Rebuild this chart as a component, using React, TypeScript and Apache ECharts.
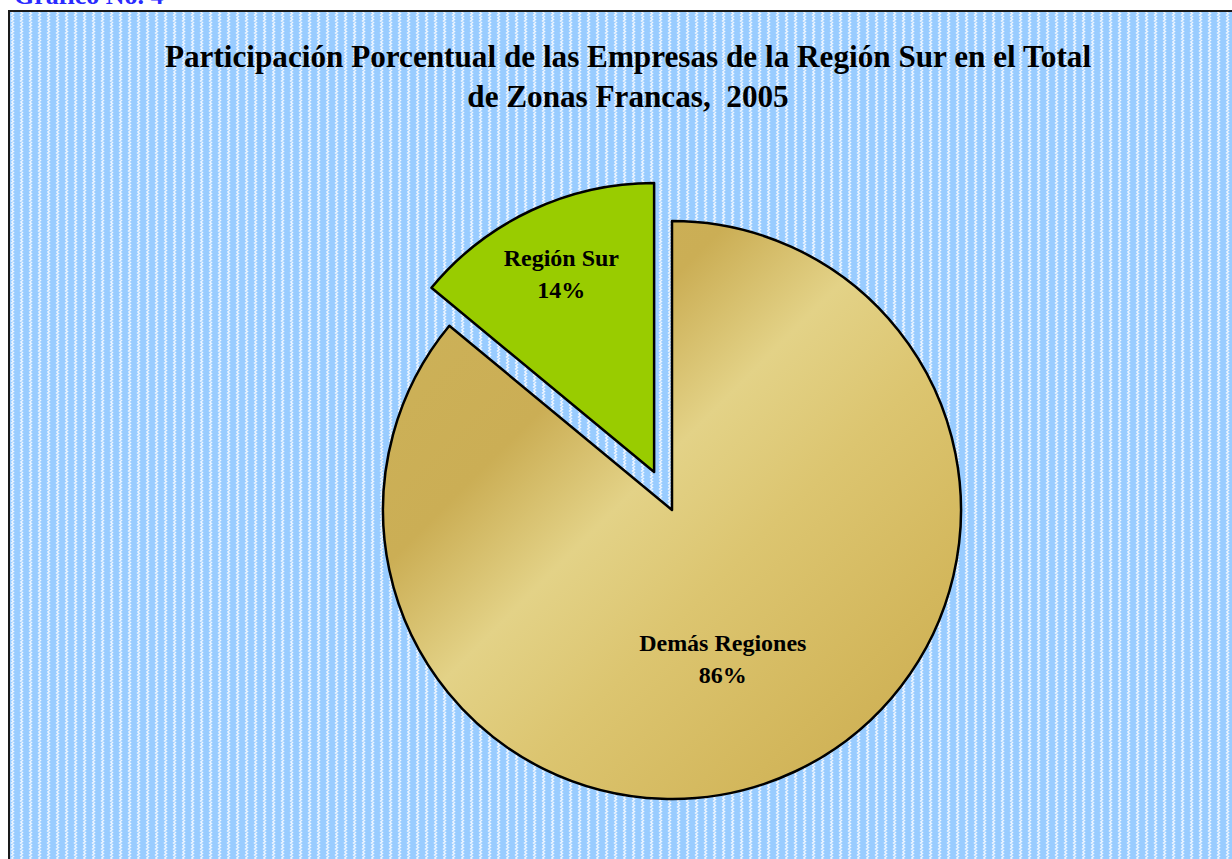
import React, { useEffect, useRef } from 'react';
import * as echarts from 'echarts';

const categories = ['Demás Regiones', 'Región Sur'];
const values = [86, 14];
const sliceColors = ['gold', '#99cc00'];
const titleLines = [
  'Participación Porcentual de las Empresas de la Región Sur en el Total',
  'de Zonas Francas,  2005',
];
const caption = 'Gráfico No. 4';

export default function App() {
  const ref = useRef<HTMLDivElement>(null);
  useEffect(() => {
    const chart = echarts.init(ref.current!, null, { renderer: 'svg' });
    const serif = "'Liberation Serif', 'Times New Roman', serif";
    const tile =
      "<svg xmlns='http://www.w3.org/2000/svg' width='9' height='6'>" +
      "<rect width='9' height='6' fill='#99ccff'/>" +
      "<polyline points='2.5,0 4.5,1.5 2.5,3 4.5,4.5 2.5,6' fill='none' stroke='#eef6ff' stroke-width='1.4'/>" +
      '</svg>';
    const url = 'data:image/svg+xml;charset=utf-8,' + encodeURIComponent(tile);
    const gold = new echarts.graphic.LinearGradient(0, 0, 1, 1, [
      { offset: 0, color: '#cdb35a' },
      { offset: 0.3, color: '#cbae55' },
      { offset: 0.45, color: '#e3d287' },
      { offset: 0.6, color: '#dcc570' },
      { offset: 0.8, color: '#d3b75c' },
      { offset: 1, color: '#c8a84c' },
    ]);
    const offsets = [
      [-12, 16],
      [-30, -65],
    ];
    const data = categories.map((name, i) => {
      const color = sliceColors[i] === 'gold' ? gold : sliceColors[i];
      return {
        name,
        value: values[i],
        selected: i === 1,
        itemStyle: { color },
        label: { offset: offsets[i] },
        select: {
          itemStyle: { color, borderColor: '#000', borderWidth: 2.5 },
          label: { offset: offsets[i] },
        },
      };
    });
    chart.setOption({
      animation: false,
      backgroundColor: '#ffffff',
      title: [
        {
          text: caption,
          left: 14,
          top: -18,
          padding: 0,
          textStyle: { color: '#2a2aff', fontFamily: serif, fontWeight: 'bold', fontSize: 26, lineHeight: 26 },
        },
        {
          text: titleLines.join('\n'),
          left: 628,
          top: 36,
          padding: 0,
          textAlign: 'center',
          textStyle: { color: '#000', fontFamily: serif, fontWeight: 'bold', fontSize: 31.2, lineHeight: 40 },
        },
      ],
      graphic: [
        {
          type: 'rect',
          z: -10,
          silent: true,
          shape: { x: 9, y: 11, width: 1300, height: 900 },
          style: { fill: '#a6d2ff', stroke: '#1a1a1a', lineWidth: 2 },
        },
        {
          type: 'rect',
          z: -9,
          silent: true,
          shape: { x: 10, y: 12, width: 1300, height: 900 },
          style: { fill: { image: url, repeat: 'repeat', imageWidth: 9, imageHeight: 6 } as any },
        },
      ],
      series: [
        {
          type: 'pie',
          center: [672, 510],
          radius: 289,
          startAngle: 90,
          clockwise: true,
          selectedMode: 'single',
          selectedOffset: 42,
          emphasis: { disabled: true },
          itemStyle: { borderColor: '#000', borderWidth: 2.5 },
          label: {
            position: 'inside',
            color: '#000',
            fontFamily: serif,
            fontWeight: 'bold',
            fontSize: 24,
            lineHeight: 32,
            formatter: (p: any) => `${p.name}\n${Math.round(p.percent)}%`,
          },
          labelLine: { show: false },
          data,
        },
      ],
    });
    return () => chart.dispose();
  }, []);
  return <div ref={ref} style={{ position: 'fixed', left: 0, top: 0, width: 1232, height: 859 }} />;
}
